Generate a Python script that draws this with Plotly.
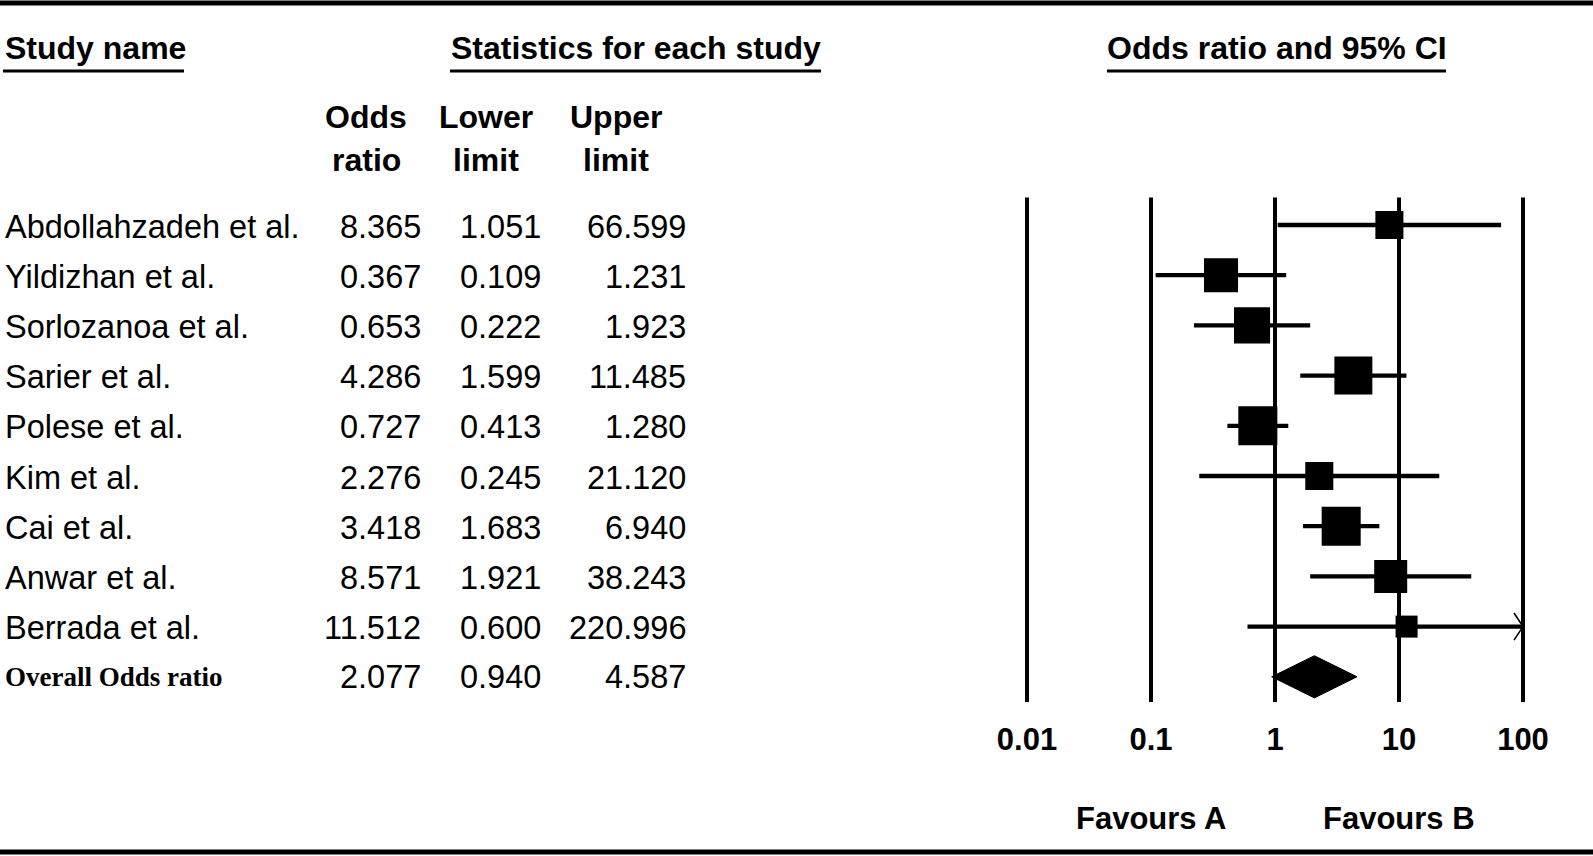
import numpy as np
import plotly.graph_objects as go

W, H = 1593, 856

# ---- data ----
studies = [
    "Abdollahzadeh et al.", "Yildizhan et al.", "Sorlozanoa et al.",
    "Sarier et al.", "Polese et al.", "Kim et al.", "Cai et al.",
    "Anwar et al.", "Berrada et al.",
]
odds_ratio = [8.365, 0.367, 0.653, 4.286, 0.727, 2.276, 3.418, 8.571, 11.512]
lower_limit = [1.051, 0.109, 0.222, 1.599, 0.413, 0.245, 1.683, 1.921, 0.600]
upper_limit = [66.599, 1.231, 1.923, 11.485, 1.280, 21.120, 6.940, 38.243, 220.996]
# relative weights (%)
weight_pct = [7.8, 11.5, 12.9, 14.3, 15.1, 7.8, 15.1, 10.8, 4.8]

overall_label = "Overall Odds ratio"
overall_or, overall_lo, overall_hi = 2.077, 0.940, 4.587

tick_values = [0.01, 0.1, 1, 10, 100]
tick_labels = ["0.01", "0.1", "1", "10", "100"]
favours_text = ["Favours A", "Favours B"]
favours_at = [0.1, 10]

# ---- geometry (pixels) ----
X_ONE, DECADE = 1275, 124      # pixel of OR = 1, pixels per decade
ROW0, ROW_STEP = 225, 50.2     # pixel of first row, row spacing
TEXT_NUDGE = 0.03              # sans text sits a touch lower than the marks
SANS = "Arial, 'Liberation Sans', sans-serif"
SERIF = "'Times New Roman', 'Liberation Serif', serif"


def px(x):
    return x / W


def py(y):
    return 1 - y / H


n = len(studies)
x_max = max(tick_values)
rows = list(range(n))
overall_row = n

fig = go.Figure()

# confidence interval whiskers
wx, wy = [], []
for i in rows:
    wx += [lower_limit[i], min(upper_limit[i], x_max), None]
    wy += [i, i, None]
fig.add_trace(go.Scatter(x=wx, y=wy, mode="lines",
                         line=dict(color="black", width=4.3), hoverinfo="skip"))

# open arrow heads where the interval runs off the scale
ax_, ay_ = [], []
back = 10 ** (-9 / DECADE)
for i in rows:
    if upper_limit[i] > x_max:
        ax_ += [x_max * back, x_max, x_max * back, None]
        ay_ += [i - 0.27, i, i + 0.27, None]
fig.add_trace(go.Scatter(x=ax_, y=ay_, mode="lines",
                         line=dict(color="black", width=1.6), hoverinfo="skip"))

# study boxes, area proportional to weight
sizes = [10.04 * np.sqrt(w) for w in weight_pct]
fig.add_trace(go.Scatter(x=odds_ratio, y=rows, mode="markers",
                         marker=dict(symbol="square", size=sizes, color="black",
                                     opacity=1, line=dict(width=0)),
                         hoverinfo="skip"))

# overall diamond
dh = 0.42
fig.add_trace(go.Scatter(
    x=[overall_lo, overall_or, overall_hi, overall_or, overall_lo],
    y=[overall_row, overall_row - dh, overall_row, overall_row + dh, overall_row],
    mode="lines", fill="toself", fillcolor="black",
    line=dict(color="black", width=1), hoverinfo="skip"))

shapes = []
# vertical reference lines
for v in tick_values:
    shapes.append(dict(type="line", xref="x", yref="y", x0=v, x1=v,
                       y0=-0.55, y1=overall_row + 0.5, layer="below",
                       line=dict(color="black", width=4)))
# top / bottom rules
for yy in (3, 852):
    shapes.append(dict(type="line", xref="paper", yref="paper", x0=0, x1=1,
                       y0=py(yy), y1=py(yy), line=dict(color="black", width=5)))
# header underlines
for x0, x1 in ((3, 184), (450, 821), (1107, 1446)):
    shapes.append(dict(type="line", xref="paper", yref="paper", x0=px(x0), x1=px(x1),
                       y0=py(71), y1=py(71), line=dict(color="black", width=3)))

ann = []


def text(s, x, y, anchor="center", size=32, bold=False, family=SANS, yref="paper"):
    ann.append(dict(text=s, x=x, y=y, xref="paper", yref=yref, xanchor=anchor,
                    yanchor="middle", showarrow=False,
                    font=dict(family=family, size=size, color="black",
                              weight="bold" if bold else "normal")))


# titles
text("Study name", px(3), py(48.5), anchor="left", bold=True)
text("Statistics for each study", px(635.5), py(48.5), bold=True)
text("Odds ratio and 95% CI", px(1276.5), py(48.5), bold=True)

# column headers
for label, cx in (("Odds<br>ratio", 366), ("Lower<br>limit", 486), ("Upper<br>limit", 616)):
    top, bottom = label.split("<br>")
    text(top, px(cx), py(117), bold=True)
    text(bottom, px(cx), py(159.5), bold=True)

# rows
for i in rows:
    yy = i + TEXT_NUDGE
    text(studies[i], px(3), yy, anchor="left", size=32.5, yref="y")
    text(f"{odds_ratio[i]:.3f}", px(423), yy, anchor="right", size=32.5, yref="y")
    text(f"{lower_limit[i]:.3f}", px(543), yy, anchor="right", size=32.5, yref="y")
    text(f"{upper_limit[i]:.3f}", px(688), yy, anchor="right", size=32.5, yref="y")

text(overall_label, px(3), overall_row, anchor="left", size=27, bold=True,
     family=SERIF, yref="y")
text(f"{overall_or:.3f}", px(423), overall_row, anchor="right", size=32.5, yref="y")
text(f"{overall_lo:.3f}", px(543), overall_row, anchor="right", size=32.5, yref="y")
text(f"{overall_hi:.3f}", px(688), overall_row, anchor="right", size=32.5, yref="y")

# favours labels
for s, v in zip(favours_text, favours_at):
    ann.append(dict(text=s, x=np.log10(v), y=py(818), xref="x", yref="paper",
                    xanchor="center", yanchor="middle", showarrow=False,
                    font=dict(family=SANS, size=31, color="black", weight="bold")))

fig.update_layout(
    width=W, height=H,
    margin=dict(l=0, r=0, t=0, b=0, pad=0),
    paper_bgcolor="white", plot_bgcolor="white",
    showlegend=False,
    shapes=shapes, annotations=ann,
    xaxis=dict(type="log", range=[(0 - X_ONE) / DECADE, (W - X_ONE) / DECADE],
               domain=[0, 1], tickvals=tick_values, ticktext=tick_labels,
               tickfont=dict(family=SANS, size=31, color="black", weight="bold"),
               showgrid=False, zeroline=False, showline=False, ticks="",
               anchor="free", position=py(718)),
    yaxis=dict(range=[(H - ROW0) / ROW_STEP, (0 - ROW0) / ROW_STEP],
               domain=[0, 1], visible=False),
)

# page has a default body margin; remove it so the chart fills the window
fig.write_html(
    "out.html",
    config={"displayModeBar": False},
    post_script="document.body.style.margin='0';document.body.style.overflow='hidden';",
)
